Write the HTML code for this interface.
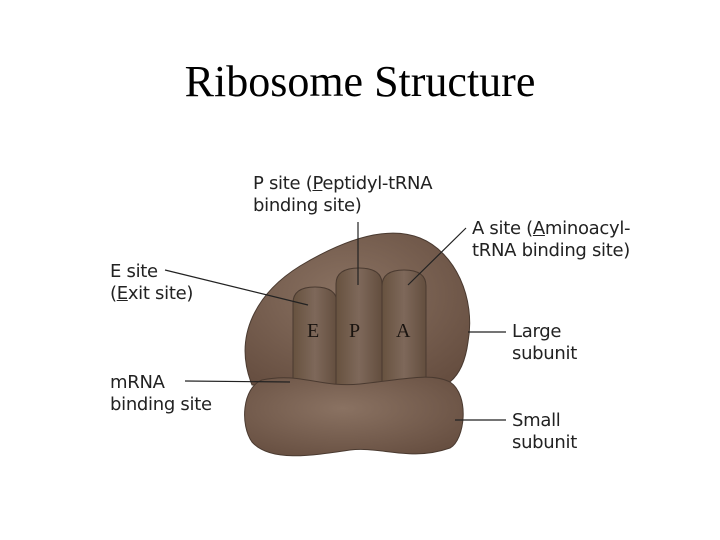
<!DOCTYPE html>
<html><head><style>
body{margin:0;width:720px;height:540px;background:#fff;overflow:hidden;position:relative}
.t{position:absolute;left:0;width:720px;text-align:center;top:56px;font:44px "Liberation Serif",serif;color:#000}
.l{position:absolute;font:18px/22px "DejaVu Sans","Liberation Sans",sans-serif;color:#222;letter-spacing:-0.3px}
svg{position:absolute;left:0;top:0}
</style></head><body>
<div class="t">Ribosome Structure</div>
<svg width="720" height="540">
<defs>
<radialGradient id="g" cx="0.45" cy="0.4" r="0.7"><stop offset="0" stop-color="#8a7262"/><stop offset="1" stop-color="#664e40"/></radialGradient>
<linearGradient id="t" x1="0" x2="1"><stop offset="0" stop-color="#67523f"/><stop offset="0.5" stop-color="#7e685a"/><stop offset="1" stop-color="#634e3e"/></linearGradient>
</defs>
<path d="M252,385 C232,335 258,292 300,266 C340,242 385,224 420,238 C455,252 476,298 468,342 C464,372 452,384 438,388 Z" fill="url(#g)" stroke="#4a3a30" stroke-width="1"/>
<path d="M293,385 V303 Q293,287 315,287 Q337,287 337,303 V385 Z" fill="url(#t)" stroke="#4a3a30"/>
<path d="M336,385 V284 Q336,268 359,268 Q382,268 382,284 V385 Z" fill="url(#t)" stroke="#4a3a30"/>
<path d="M382,385 V286 Q382,270 404,270 Q426,270 426,286 V385 Z" fill="url(#t)" stroke="#4a3a30"/>
<path d="M262,380 C300,372 320,388 360,384 C400,380 430,372 450,382 C470,395 465,440 450,448 C410,462 380,446 350,450 C310,456 270,462 252,442 C240,425 242,388 262,380 Z" fill="url(#g)" stroke="#4a3a30"/>
<g font-family="Liberation Serif,serif" font-size="20" fill="#1a1410"><text x="307" y="337">E</text><text x="349" y="337">P</text><text x="396" y="337">A</text></g>
<g stroke="#222" stroke-width="1.2" fill="none">
<line x1="358" y1="222" x2="358" y2="285"/>
<line x1="466" y1="228" x2="408" y2="285"/>
<line x1="165" y1="270" x2="308" y2="305"/>
<line x1="185" y1="381" x2="290" y2="382"/>
<line x1="468" y1="332" x2="506" y2="332"/>
<line x1="455" y1="420" x2="506" y2="420"/>
</g>
</svg>
<div class="l" style="left:253px;top:173px">P site (<u>P</u>eptidyl-tRNA<br>binding site)</div>
<div class="l" style="left:472px;top:218px">A site (<u>A</u>minoacyl-<br>tRNA binding site)</div>
<div class="l" style="left:110px;top:261px">E site<br>(<u>E</u>xit site)</div>
<div class="l" style="left:512px;top:321px">Large<br>subunit</div>
<div class="l" style="left:110px;top:372px">mRNA<br>binding site</div>
<div class="l" style="left:512px;top:410px">Small<br>subunit</div>
</body></html>
